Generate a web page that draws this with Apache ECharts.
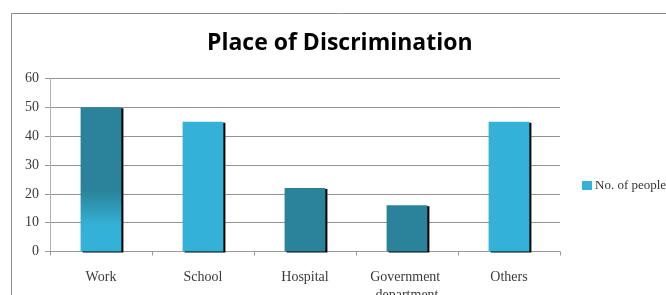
<!DOCTYPE html>
<html>
<head>
    <meta charset="utf-8">
    <title></title>
    <style type="text/css">
        html, body { margin: 0; padding: 0; background: #fff; }
    </style>
</head>
<body>
<div id="main" style="width: 666px;height:295px;"></div>

<script type="text/javascript" src="https://cdn.jsdelivr.net/npm/echarts@6/dist/echarts.min.js"></script>
<script type="text/javascript">
    var categories = ['Work', 'School', 'Hospital', 'Government department', 'Others'];
    var people = [50, 45, 22, 16, 45];
    var yTicks = [0, 10, 20, 30, 40, 50, 60];

    var dark = '#2a839a';
    var light = '#34b1d6';
    // the work bar fades from dark to light near the bottom
    var barColors = [
        new echarts.graphic.LinearGradient(0, 0, 0, 1, [
            {offset: 0, color: dark},
            {offset: 0.58, color: dark},
            {offset: 0.82, color: light},
            {offset: 1, color: light}
        ]),
        light, dark, dark, light
    ];

    var myChart = echarts.init(document.getElementById('main'));
    myChart.setOption({
        animation: false,
        title: {
            text: 'Place of Discrimination',
            left: 202,
            top: 27,
            textStyle: {
                fontFamily: 'Open Sans',
                fontWeight: 'bold',
                fontSize: 23,
                color: '#000'
            }
        },
        graphic: [{
            type: 'rect',
            shape: {x: 11.5, y: 13.5, width: 700, height: 320},
            style: {fill: 'none', stroke: '#8a8a8a', lineWidth: 1},
            silent: true
        }],
        legend: {
            data: ['No. of people'],
            left: 577,
            top: 174,
            itemWidth: 10,
            itemHeight: 9,
            itemGap: 3,
            icon: 'rect',
            textStyle: {
                fontFamily: 'Liberation Serif',
                fontSize: 13,
                color: '#333',
                padding: [0, 0, 0, -2]
            }
        },
        grid: {
            left: 50,
            right: 106,
            top: 78.5,
            bottom: 43.5,
            containLabel: false,
            outerBoundsMode: 'none'
        },
        xAxis: {
            type: 'category',
            data: categories,
            axisLine: {lineStyle: {color: '#9a9a9a'}},
            axisTick: {show: true, length: 4, lineStyle: {color: '#9a9a9a'}},
            axisLabel: {
                interval: 0,
                margin: 17,
                width: 100,
                overflow: 'break',
                lineHeight: 18,
                fontFamily: 'Liberation Serif',
                fontSize: 14,
                color: '#3a3a3a'
            }
        },
        yAxis: {
            type: 'value',
            min: yTicks[0],
            max: yTicks[yTicks.length - 1],
            interval: 10,
            axisLine: {show: true, lineStyle: {color: '#b0b0b0'}},
            axisTick: {show: true, length: 5, lineStyle: {color: '#9a9a9a'}},
            splitLine: {lineStyle: {color: '#939393', width: 1}},
            axisLabel: {
                margin: 11,
                fontFamily: 'Liberation Serif',
                fontSize: 14,
                color: '#3a3a3a'
            }
        },
        series: [{
            name: 'No. of people',
            type: 'bar',
            barWidth: '40%',
            color: light,
            itemStyle: {
                color: function(params) {
                    return barColors[params.dataIndex];
                },
                shadowColor: '#000',
                shadowBlur: 0,
                shadowOffsetX: 2,
                shadowOffsetY: 1
            },
            data: people
        }]
    });
</script>

</body>
</html>
